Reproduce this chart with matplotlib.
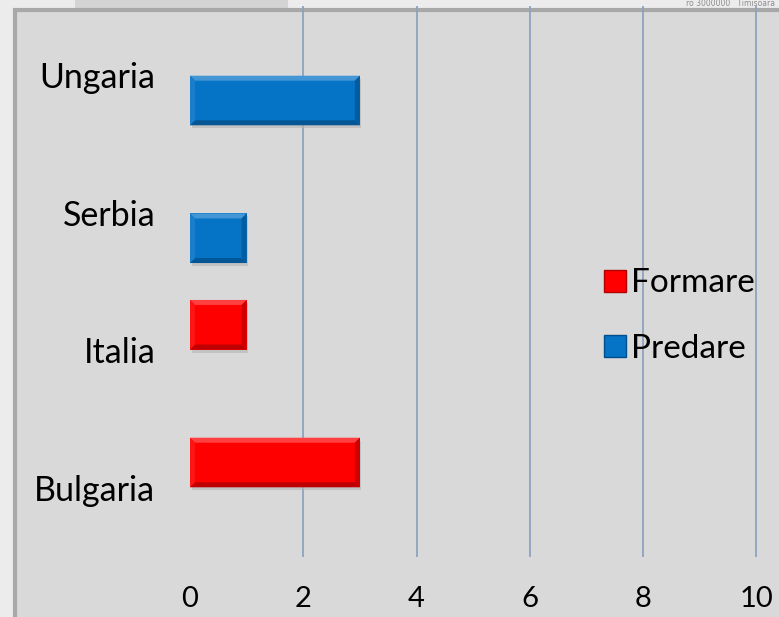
import numpy as np
import matplotlib.pyplot as plt
from matplotlib.patches import Rectangle, Polygon
from matplotlib.lines import Line2D

countries = ["Bulgaria", "Italia", "Serbia", "Ungaria"]
formare = [3, 1, 0, 0]
predare = [0, 0, 1, 3]
x_ticks = [0, 2, 4, 6, 8, 10]

red = "#ff0000"
blue = "#0573c6"

plt.rcParams['font.family'] = ['Lato', 'DejaVu Sans']

W, H = 779, 617
fig = plt.figure(figsize=(W / 100, H / 100), dpi=100)
fig.patch.set_facecolor("#ececec")

# frame of the slide/chart area
fig.patches.append(Rectangle((75 / W, 1 - 9 / H), 213 / W, 9 / H, transform=fig.transFigure,
                             facecolor="#d4d4d4", edgecolor="none", zorder=0))
fig.patches.append(Rectangle((15 / W, -0.1), 1.1, 1 - 10 / H + 0.1, transform=fig.transFigure,
                             facecolor="#d9d9d9", edgecolor="#a8a8a8", linewidth=3, zorder=1))
fig.text(0.995, 1 - 8.5 / H, "ro 3000000   Timisoara", ha="right", va="bottom",
         fontsize=5.5, color="#8c8c8c", family=["Liberation Sans Narrow", "DejaVu Sans"])

ax = fig.add_axes([190 / W, 60 / H, (W - 190) / W, (557 - 6) / H])
ax.set_facecolor("none")
ax.set_zorder(2)

y = np.arange(len(countries))
off = 0.186
hgt = 0.36
bars_f = ax.barh(y + off, formare, height=hgt, color=red, zorder=3)
bars_p = ax.barh(y - off, predare, height=hgt, color=blue, zorder=3)

ax.set_xlim(0, 10.4)
ax.set_ylim(-0.5, 3.5)
for t in x_ticks[1:]:
    ax.axvline(t, color="#8da3c2", linewidth=1.3, zorder=1)

ax.set_xticks(x_ticks)
ax.set_yticks(y)
ax.set_yticklabels(countries)
ax.tick_params(axis="y", length=0, pad=25, labelsize=24.5)
ax.tick_params(axis="x", length=0, pad=21, labelsize=21)
for s in ax.spines.values():
    s.set_visible(False)


def shade(c, f):
    c = np.array(plt.matplotlib.colors.to_rgb(c))
    if f > 0:
        return tuple(c + (1 - c) * f)
    return tuple(c * (1 + f))


fig.canvas.draw()
inv = ax.transData.inverted()
px_x = abs(inv.transform((5, 0))[0] - inv.transform((0, 0))[0])
px_y = abs(inv.transform((0, 5))[1] - inv.transform((0, 0))[1])

for bars, col in [(bars_f, red), (bars_p, blue)]:
    for b in bars:
        w = b.get_width()
        if w <= 0:
            continue
        x0, y0, h = b.get_x(), b.get_y(), b.get_height()
        x1, y1 = x0 + w, y0 + h
        # drop shadow
        ax.add_patch(Rectangle((x0 + px_x * 0.3, y0 - px_y * 0.6), w, h, facecolor="#b4b4b4",
                               edgecolor="none", alpha=0.6, zorder=2.5))
        bx, by = px_x, px_y
        top = Polygon([(x0, y1), (x1, y1), (x1 - bx, y1 - by), (x0 + bx, y1 - by)],
                      facecolor=shade(col, 0.25), edgecolor="none", zorder=4)
        bot = Polygon([(x0, y0), (x1, y0), (x1 - bx, y0 + by), (x0 + bx, y0 + by)],
                      facecolor=shade(col, -0.25), edgecolor="none", zorder=4)
        left = Polygon([(x0, y0), (x0, y1), (x0 + bx, y1 - by), (x0 + bx, y0 + by)],
                       facecolor=shade(col, 0.08), edgecolor="none", zorder=4)
        right = Polygon([(x1, y0), (x1, y1), (x1 - bx, y1 - by), (x1 - bx, y0 + by)],
                        facecolor=shade(col, -0.2), edgecolor="none", zorder=4)
        for p in (top, bot, left, right):
            ax.add_patch(p)

handles = [Line2D([], [], marker="s", linestyle="none", markersize=16, markerfacecolor=red,
                  markeredgecolor="#b00000", markeredgewidth=1),
           Line2D([], [], marker="s", linestyle="none", markersize=16, markerfacecolor=blue,
                  markeredgecolor="#004f8c", markeredgewidth=1)]
leg = fig.legend(handles, ["Formare", "Predare"], loc="center left",
                 bbox_to_anchor=(588 / W, 1 - 316 / H), frameon=False, fontsize=24,
                 handlelength=0.6, handletextpad=0.2, labelspacing=1.05, borderpad=0)

fig.savefig("out.png", dpi=100)
